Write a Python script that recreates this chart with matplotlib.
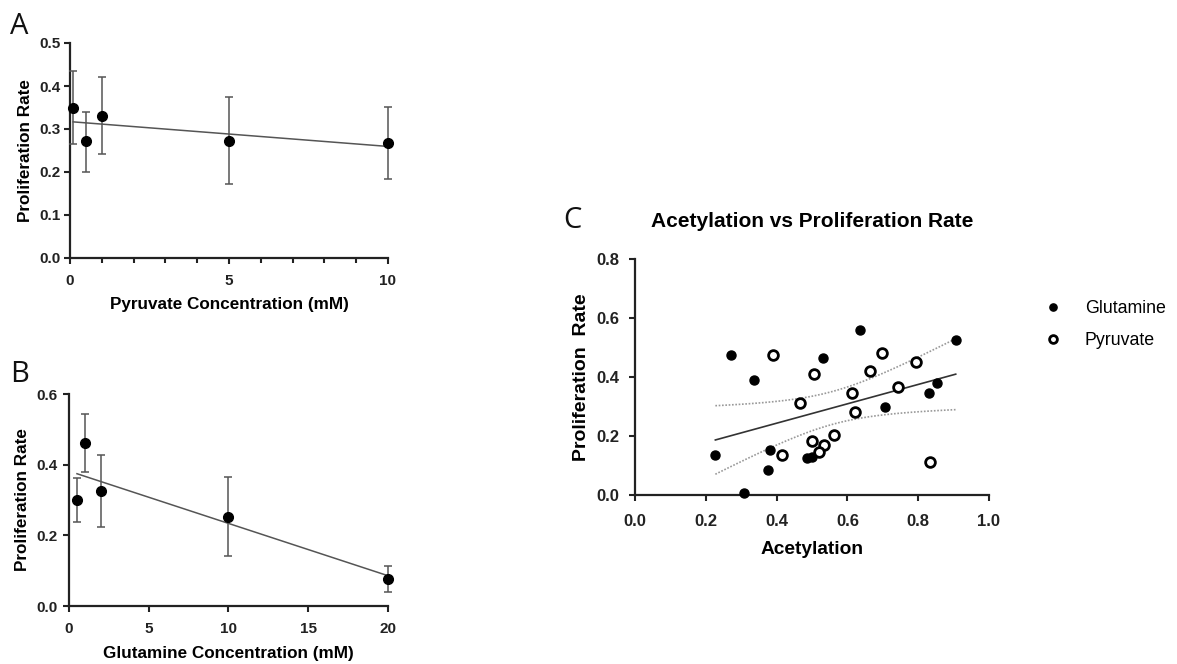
import numpy as np
import matplotlib
matplotlib.use("Agg")
import matplotlib.pyplot as plt
from matplotlib.ticker import MultipleLocator

plt.rcParams['font.family'] = ['Liberation Sans', 'DejaVu Sans']

# Panel A: pyruvate
pyr_conc = [0.1, 0.5, 1, 5, 10]
pyr_rate = [0.348, 0.271, 0.331, 0.273, 0.267]
pyr_lo = [0.265, 0.201, 0.242, 0.173, 0.183]
pyr_hi = [0.434, 0.339, 0.421, 0.374, 0.352]

# Panel B: glutamine
glu_conc = [0.5, 1, 2, 10, 20]
glu_rate = [0.299, 0.460, 0.325, 0.253, 0.076]
glu_lo = [0.237, 0.380, 0.223, 0.142, 0.040]
glu_hi = [0.362, 0.542, 0.427, 0.366, 0.113]

# Panel C: acetylation vs proliferation
glut_acet = [0.227, 0.271, 0.308, 0.336, 0.381, 0.377, 0.487, 0.501,
             0.530, 0.637, 0.706, 0.830, 0.852, 0.906]
glut_prol = [0.135, 0.475, 0.007, 0.390, 0.154, 0.084, 0.124, 0.129,
             0.463, 0.561, 0.298, 0.346, 0.378, 0.527]
pyru_acet = [0.389, 0.507, 0.467, 0.613, 0.621, 0.663, 0.698, 0.794,
             0.742, 0.563, 0.501, 0.534, 0.520, 0.414, 0.833]
pyru_prol = [0.476, 0.410, 0.313, 0.347, 0.282, 0.422, 0.482, 0.452,
             0.366, 0.204, 0.182, 0.170, 0.145, 0.137, 0.113]

fig = plt.figure(figsize=(11.77, 6.64), dpi=100, facecolor='w')

def style(ax, fs, xpad, ypad):
    for s in ['top', 'right']:
        ax.spines[s].set_visible(False)
    for s in ['left', 'bottom']:
        ax.spines[s].set_linewidth(1.6)
        ax.spines[s].set_color('#222222')
    ax.tick_params(which='major', length=4.5, width=1.5, color='#222222',
                   labelsize=fs)
    ax.tick_params(axis='x', pad=xpad)
    ax.tick_params(axis='y', pad=ypad)
    ax.tick_params(which='minor', length=3.5, width=1.5, color='#222222')
    for lab in ax.get_xticklabels() + ax.get_yticklabels():
        lab.set_fontweight('bold')
        lab.set_color('#222222')

def dose_panel(ax, x, y, lo, hi):
    x = np.array(x); y = np.array(y)
    yerr = [y - np.array(lo), np.array(hi) - y]
    ax.errorbar(x, y, yerr=yerr, fmt='o', color='black', ms=7,
                ecolor='#555555', elinewidth=1.1, capsize=3, capthick=1.1,
                zorder=3, clip_on=False)
    k, b = np.polyfit(x, y, 1)
    xx = np.array([x.min(), x.max()])
    ax.plot(xx, k * xx + b, color='#555555', lw=1.1, zorder=2)

# A
axA = fig.add_axes([70/1177, 1-258/664, 318/1177, 215/664])
dose_panel(axA, pyr_conc, pyr_rate, pyr_lo, pyr_hi)
axA.set_xlim(0, 10)
axA.set_ylim(0, 0.5)
axA.set_xticks([0, 5, 10])
axA.xaxis.set_minor_locator(MultipleLocator(1))
axA.set_yticks([0, 0.1, 0.2, 0.3, 0.4, 0.5])
axA.set_yticklabels(['0.0', '0.1', '0.2', '0.3', '0.4', '0.5'])
axA.set_xlabel('Pyruvate Concentration (mM)', fontsize=12.3, fontweight='bold', labelpad=6.5)
axA.set_ylabel('Proliferation Rate', fontsize=12.3, fontweight='bold', labelpad=5)
style(axA, 11, 7, 2)

# B
axB = fig.add_axes([69/1177, 1-606/664, 319/1177, 212/664])
dose_panel(axB, glu_conc, glu_rate, glu_lo, glu_hi)
axB.set_xlim(0, 20)
axB.set_ylim(0, 0.6)
axB.set_xticks([0, 5, 10, 15, 20])
axB.set_yticks([0, 0.2, 0.4, 0.6])
axB.set_yticklabels(['0.0', '0.2', '0.4', '0.6'])
axB.set_xlabel('Glutamine Concentration (mM)', fontsize=12.3, fontweight='bold', labelpad=7.5)
axB.set_ylabel('Proliferation Rate', fontsize=12.3, fontweight='bold', labelpad=4)
style(axB, 11, 7, 4)

# C
axC = fig.add_axes([635/1177, 1-495/664, 354/1177, 236/664])
axC.plot(glut_acet, glut_prol, 'o', color='black', ms=6.5, label='Glutamine',
         zorder=3, clip_on=False)
axC.plot(pyru_acet, pyru_prol, 'o', mfc='white', mec='black', mew=2, ms=7,
         label='Pyruvate', zorder=3)
xa = np.array(glut_acet + pyru_acet)
ya = np.array(glut_prol + pyru_prol)
k, b = np.polyfit(xa, ya, 1)
n = len(xa)
resid = ya - (k * xa + b)
s = np.sqrt(np.sum(resid ** 2) / (n - 2))
sxx = np.sum((xa - xa.mean()) ** 2)
xx = np.linspace(xa.min(), xa.max(), 100)
yy = k * xx + b
half = 2.052 * s * np.sqrt(1 / n + (xx - xa.mean()) ** 2 / sxx)
axC.plot(xx, yy, color='#333333', lw=1.2, zorder=2)
axC.plot(xx, yy + half, color='#999999', lw=1.2, ls=(0, (1, 1)), zorder=2)
axC.plot(xx, yy - half, color='#999999', lw=1.2, ls=(0, (1, 1)), zorder=2)
axC.set_xlim(0, 1.0)
axC.set_ylim(0, 0.8)
axC.set_xticks([0, 0.2, 0.4, 0.6, 0.8, 1.0])
axC.set_xticklabels(['0.0', '0.2', '0.4', '0.6', '0.8', '1.0'])
axC.set_yticks([0, 0.2, 0.4, 0.6, 0.8])
axC.set_yticklabels(['0.0', '0.2', '0.4', '0.6', '0.8'])
axC.set_xlabel('Acetylation', fontsize=13.8, fontweight='bold', labelpad=9)
axC.set_ylabel('Proliferation  Rate', fontsize=14, fontweight='bold', labelpad=5)
axC.set_title('Acetylation vs Proliferation Rate', fontsize=15, fontweight='bold', pad=23)
style(axC, 12, 9, 6.5)
axC.legend(loc='upper left', bbox_to_anchor=(1.085, 0.895), frameon=False,
           fontsize=12.8, handletextpad=0.8, labelspacing=0.85, markerscale=0.8)

# panel letters
fig.text(10/1177, 1-34/664, 'A', fontsize=21, family='Open Sans', color='#111111')
fig.text(10/1177, 1-382/664, 'B', fontsize=21, family='Open Sans', color='#111111')
fig.text(563/1177, 1-228/664, 'C', fontsize=21, family='Open Sans', color='#111111')

fig.savefig('out.png', dpi=100, facecolor='w')
